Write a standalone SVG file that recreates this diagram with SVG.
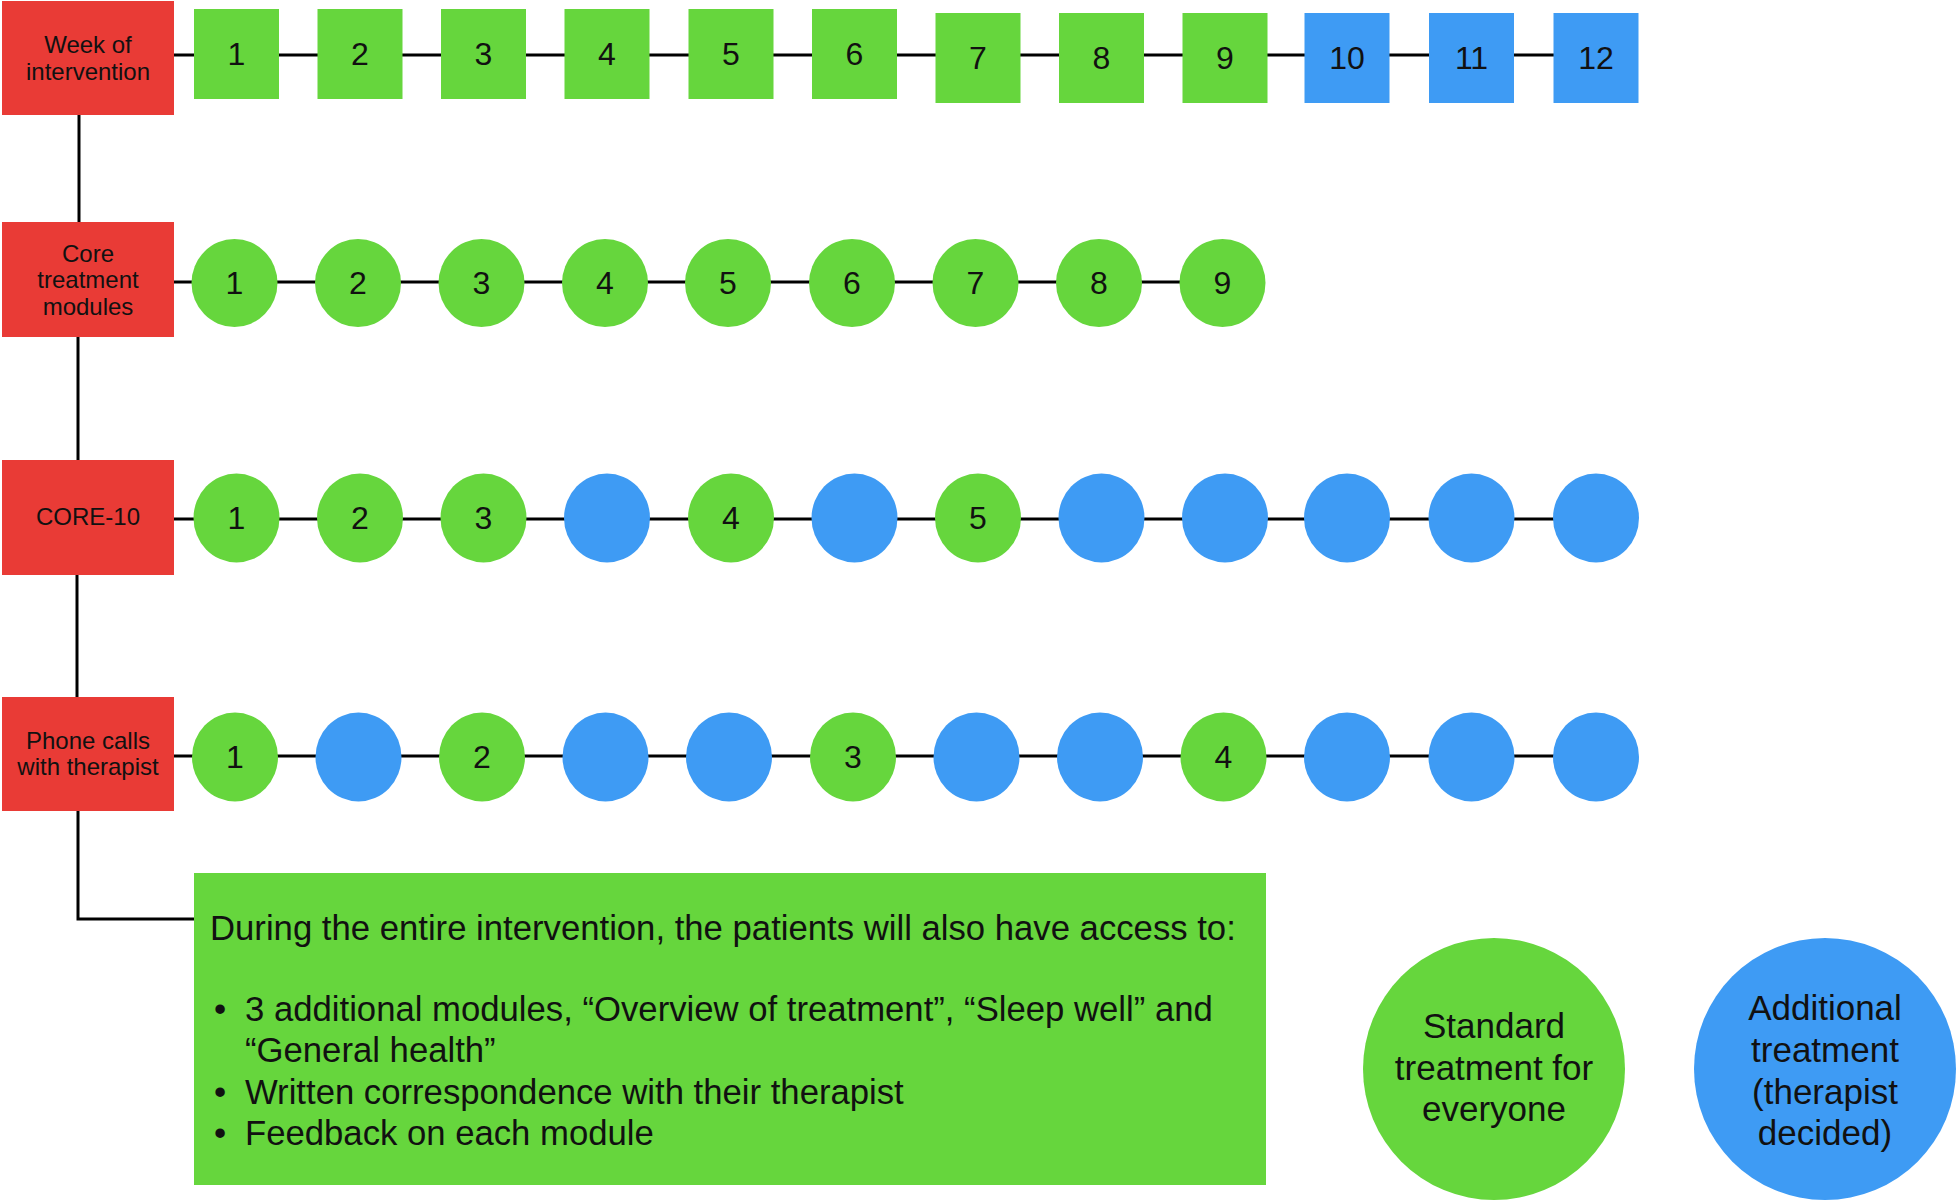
<svg xmlns="http://www.w3.org/2000/svg" width="1960" height="1202" viewBox="0 0 1960 1202">
<style>
.red{fill:#E93B36}
.green{fill:#66D63D}
.blue{fill:#3E9BF4}
text{font-family:"Liberation Sans",Arial,Helvetica,sans-serif;fill:#111}
.lbl{font-size:24px;text-anchor:middle}
.num{font-size:32px;text-anchor:middle}
.box{font-size:34.7px}
.leg{font-size:35px;text-anchor:middle}
.conn{stroke:#000;stroke-width:3;fill:none}
</style>
<rect width="1960" height="1202" fill="#fff"/>
<g id="connectors">
<path class="conn" d="M174 55 H1596"/>
<path class="conn" d="M174 282 H1221"/>
<path class="conn" d="M174 519 H1596"/>
<path class="conn" d="M174 756 H1596"/>
<path class="conn" d="M79 115 V222"/>
<path class="conn" d="M78 337 V460"/>
<path class="conn" d="M77 575 V697"/>
<path class="conn" d="M78 811 V919 H194"/>
</g>
<g id="labels">
<g id="label-week"><rect class="red" x="2" y="1" width="172" height="114"/><text class="lbl" x="88" y="53">Week of</text><text class="lbl" x="88" y="80">intervention</text></g>
<g id="label-core"><rect class="red" x="2" y="222" width="172" height="115"/><text class="lbl" x="88" y="262">Core</text><text class="lbl" x="88" y="288">treatment</text><text class="lbl" x="88" y="315">modules</text></g>
<g id="label-core10"><rect class="red" x="2" y="460" width="172" height="115"/><text class="lbl" x="88" y="525">CORE-10</text></g>
<g id="label-phone"><rect class="red" x="2" y="697" width="172" height="114"/><text class="lbl" x="88" y="749">Phone calls</text><text class="lbl" x="88" y="775">with therapist</text></g>
</g>
<g id="weeks">
<g id="week-1"><rect class="green" x="194" y="9" width="85" height="90"/><text class="num" x="236.5" y="65">1</text></g>
<g id="week-2"><rect class="green" x="317.5" y="9" width="85" height="90"/><text class="num" x="360" y="65">2</text></g>
<g id="week-3"><rect class="green" x="441" y="9" width="85" height="90"/><text class="num" x="483.5" y="65">3</text></g>
<g id="week-4"><rect class="green" x="564.5" y="9" width="85" height="90"/><text class="num" x="607" y="65">4</text></g>
<g id="week-5"><rect class="green" x="688.5" y="9" width="85" height="90"/><text class="num" x="731" y="65">5</text></g>
<g id="week-6"><rect class="green" x="812" y="9" width="85" height="90"/><text class="num" x="854.5" y="65">6</text></g>
<g id="week-7"><rect class="green" x="935.5" y="13" width="85" height="90"/><text class="num" x="978" y="69">7</text></g>
<g id="week-8"><rect class="green" x="1059" y="13" width="85" height="90"/><text class="num" x="1101.5" y="69">8</text></g>
<g id="week-9"><rect class="green" x="1182.5" y="13" width="85" height="90"/><text class="num" x="1225" y="69">9</text></g>
<g id="week-10"><rect class="blue" x="1304.5" y="13" width="85" height="90"/><text class="num" x="1347" y="69">10</text></g>
<g id="week-11"><rect class="blue" x="1429" y="13" width="85" height="90"/><text class="num" x="1471.5" y="69">11</text></g>
<g id="week-12"><rect class="blue" x="1553.5" y="13" width="85" height="90"/><text class="num" x="1596" y="69">12</text></g>
</g>
<g id="modules">
<g id="module-1"><ellipse class="green" cx="234.5" cy="283" rx="43" ry="44"/><text class="num" x="234.5" y="294">1</text></g>
<g id="module-2"><ellipse class="green" cx="358" cy="283" rx="43" ry="44"/><text class="num" x="358" y="294">2</text></g>
<g id="module-3"><ellipse class="green" cx="481.5" cy="283" rx="43" ry="44"/><text class="num" x="481.5" y="294">3</text></g>
<g id="module-4"><ellipse class="green" cx="605" cy="283" rx="43" ry="44"/><text class="num" x="605" y="294">4</text></g>
<g id="module-5"><ellipse class="green" cx="728" cy="283" rx="43" ry="44"/><text class="num" x="728" y="294">5</text></g>
<g id="module-6"><ellipse class="green" cx="852" cy="283" rx="43" ry="44"/><text class="num" x="852" y="294">6</text></g>
<g id="module-7"><ellipse class="green" cx="975.5" cy="283" rx="43" ry="44"/><text class="num" x="975.5" y="294">7</text></g>
<g id="module-8"><ellipse class="green" cx="1099" cy="283" rx="43" ry="44"/><text class="num" x="1099" y="294">8</text></g>
<g id="module-9"><ellipse class="green" cx="1222.5" cy="283" rx="43" ry="44"/><text class="num" x="1222.5" y="294">9</text></g>
</g>
<g id="core10">
<g id="core10-1"><ellipse class="green" cx="236.5" cy="518" rx="43" ry="44.5"/><text class="num" x="236.5" y="529">1</text></g>
<g id="core10-2"><ellipse class="green" cx="360" cy="518" rx="43" ry="44.5"/><text class="num" x="360" y="529">2</text></g>
<g id="core10-3"><ellipse class="green" cx="483.5" cy="518" rx="43" ry="44.5"/><text class="num" x="483.5" y="529">3</text></g>
<g id="core10-w4"><ellipse class="blue" cx="607" cy="518" rx="43" ry="44.5"/></g>
<g id="core10-4"><ellipse class="green" cx="731" cy="518" rx="43" ry="44.5"/><text class="num" x="731" y="529">4</text></g>
<g id="core10-w6"><ellipse class="blue" cx="854.5" cy="518" rx="43" ry="44.5"/></g>
<g id="core10-5"><ellipse class="green" cx="978" cy="518" rx="43" ry="44.5"/><text class="num" x="978" y="529">5</text></g>
<g id="core10-w8"><ellipse class="blue" cx="1101.5" cy="518" rx="43" ry="44.5"/></g>
<g id="core10-w9"><ellipse class="blue" cx="1225" cy="518" rx="43" ry="44.5"/></g>
<g id="core10-w10"><ellipse class="blue" cx="1347" cy="518" rx="43" ry="44.5"/></g>
<g id="core10-w11"><ellipse class="blue" cx="1471.5" cy="518" rx="43" ry="44.5"/></g>
<g id="core10-w12"><ellipse class="blue" cx="1596" cy="518" rx="43" ry="44.5"/></g>
</g>
<g id="calls">
<g id="call-1"><ellipse class="green" cx="235" cy="757" rx="43" ry="44.5"/><text class="num" x="235" y="768">1</text></g>
<g id="call-w2"><ellipse class="blue" cx="358.5" cy="757" rx="43" ry="44.5"/></g>
<g id="call-2"><ellipse class="green" cx="482" cy="757" rx="43" ry="44.5"/><text class="num" x="482" y="768">2</text></g>
<g id="call-w4"><ellipse class="blue" cx="605.5" cy="757" rx="43" ry="44.5"/></g>
<g id="call-w5"><ellipse class="blue" cx="729" cy="757" rx="43" ry="44.5"/></g>
<g id="call-3"><ellipse class="green" cx="853" cy="757" rx="43" ry="44.5"/><text class="num" x="853" y="768">3</text></g>
<g id="call-w7"><ellipse class="blue" cx="976.5" cy="757" rx="43" ry="44.5"/></g>
<g id="call-w8"><ellipse class="blue" cx="1100" cy="757" rx="43" ry="44.5"/></g>
<g id="call-4"><ellipse class="green" cx="1223.5" cy="757" rx="43" ry="44.5"/><text class="num" x="1223.5" y="768">4</text></g>
<g id="call-w10"><ellipse class="blue" cx="1347" cy="757" rx="43" ry="44.5"/></g>
<g id="call-w11"><ellipse class="blue" cx="1471.5" cy="757" rx="43" ry="44.5"/></g>
<g id="call-w12"><ellipse class="blue" cx="1596" cy="757" rx="43" ry="44.5"/></g>
</g>
<g id="access-box">
<rect class="green" x="194" y="873" width="1072" height="312"/>
<text class="box" x="210" y="940">During the entire intervention, the patients will also have access to:</text>
<text class="box" x="214" y="1021">•</text><text class="box" x="245" y="1021">3 additional modules, “Overview of treatment”, “Sleep well” and</text>
<text class="box" x="245" y="1062">“General health”</text>
<text class="box" x="214" y="1104">•</text><text class="box" x="245" y="1104">Written correspondence with their therapist</text>
<text class="box" x="214" y="1145">•</text><text class="box" x="245" y="1145">Feedback on each module</text>
</g>
<g id="legend-standard">
<circle class="green" cx="1494" cy="1069" r="131"/>
<text class="leg" x="1494" y="1038">Standard</text>
<text class="leg" x="1494" y="1080">treatment for</text>
<text class="leg" x="1494" y="1121">everyone</text>
</g>
<g id="legend-additional">
<circle class="blue" cx="1825" cy="1069" r="131"/>
<text class="leg" x="1825" y="1020">Additional</text>
<text class="leg" x="1825" y="1062">treatment</text>
<text class="leg" x="1825" y="1104">(therapist</text>
<text class="leg" x="1825" y="1145">decided)</text>
</g>
</svg>
